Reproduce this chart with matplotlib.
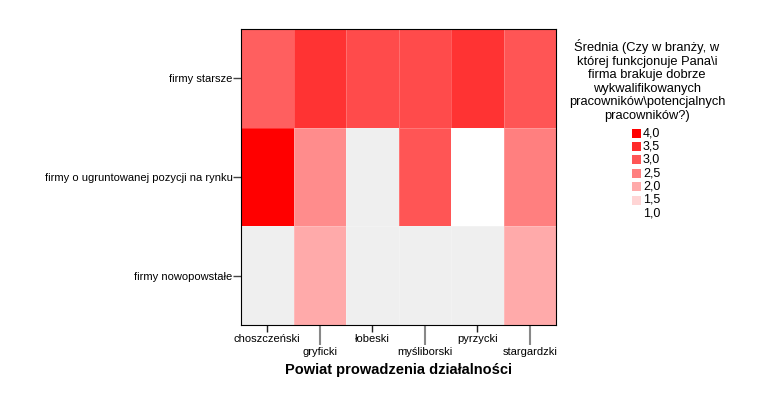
import numpy as np
import matplotlib
matplotlib.use("Agg")
import matplotlib.pyplot as plt
from matplotlib.colors import LinearSegmentedColormap
from matplotlib.patches import Rectangle

plt.rcParams['font.family'] = ['Liberation Sans', 'DejaVu Sans']

districts = ["choszczeński", "gryficki", "łobeski", "myśliborski", "pyrzycki", "stargardzki"]
firm_types = ["firmy starsze", "firmy o ugruntowanej pozycji na rynku", "firmy nowopowstałe"]
# mean values per (firm type, district); NaN = no data
mean_starsze = [2.88, 3.40, 3.12, 3.12, 3.40, 3.00]
mean_ugrunt = [4.00, 2.35, np.nan, 3.00, 1.00, 2.50]
mean_nowe = [np.nan, 2.00, np.nan, np.nan, np.nan, 2.00]
legend_levels = [4.0, 3.5, 3.0, 2.5, 2.0, 1.5, 1.0]
legend_title = ("Średnia (Czy w branży, w\nktórej funkcjonuje Pana\\i\nfirma brakuje dobrze\n"
                "wykwalifikowanych\npracowników\\potencjalnych\npracowników?)")
xlabel = "Powiat prowadzenia działalności"

W, H = 767, 408
fig = plt.figure(figsize=(W / 100, H / 100), dpi=100)
ax = fig.add_axes([241 / W, 1 - 325 / H, 315 / W, 296 / H])

cmap = LinearSegmentedColormap.from_list("wr", ["#ffffff", "#ff0000"])
cmap.set_bad("#efefef")
vmin, vmax = 1.0, 4.0

data = np.ma.masked_invalid(np.array([mean_starsze, mean_ugrunt, mean_nowe]))
ax.pcolormesh(np.arange(len(districts) + 1), np.arange(len(firm_types) + 1), data,
              cmap=cmap, vmin=vmin, vmax=vmax, edgecolors=(1, 1, 1, 0.2), linewidth=0.7)
ax.set_xlim(0, len(districts))
ax.set_ylim(len(firm_types), 0)

for s in ax.spines.values():
    s.set_color("black")
    s.set_linewidth(0.8)

# y ticks
ax.set_yticks(np.arange(len(firm_types)) + 0.5)
ax.set_yticklabels(firm_types, fontsize=8)
ax.tick_params(axis="y", length=6, width=1, color="#444444", pad=0)

# staggered x ticks
xpos = np.arange(len(districts)) + 0.5
ax.set_xticks(xpos[::2])
ax.set_xticklabels(districts[::2], fontsize=8)
ax.set_xticks(xpos[1::2], minor=True)
ax.set_xticklabels(districts[1::2], minor=True, fontsize=8)
ax.tick_params(axis="x", which="major", length=5, width=1, color="#222222", pad=1.5)
ax.tick_params(axis="x", which="minor", length=14.5, width=1.5, color="#888888", pad=1.5)
ax.set_xlabel(xlabel, fontsize=10.5, fontweight="bold", labelpad=4)

# legend
fig.text(647 / W, 1 - 39 / H, legend_title, ha="center", va="top", fontsize=9.3, linespacing=1.17)
y0 = 133
for i, v in enumerate(legend_levels):
    yc = y0 + i * 13.4
    fig.patches.append(Rectangle((632 / W, 1 - (yc + 4.5) / H), 9 / W, 9 / H,
                                 transform=fig.transFigure,
                                 facecolor=cmap((v - vmin) / (vmax - vmin)), edgecolor="none"))
    fig.text(643 / W, 1 - yc / H, f"{v:.1f}".replace(".", ","), ha="left", va="center", fontsize=9)

fig.savefig("out.png", dpi=100)
